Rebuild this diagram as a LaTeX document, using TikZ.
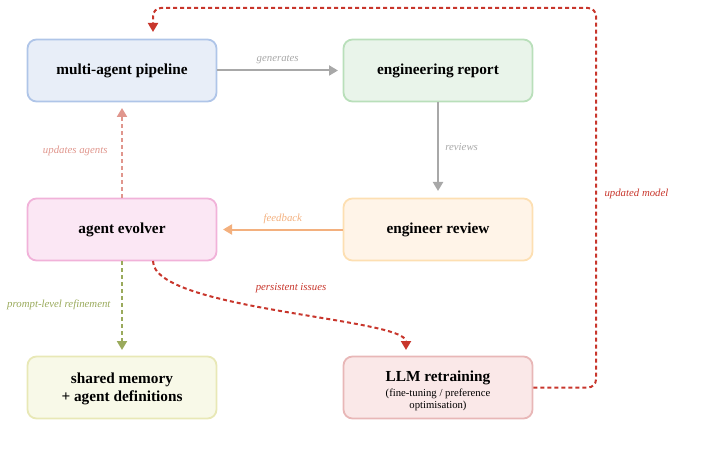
\documentclass[tikz,border=0pt]{standalone}
\usepackage{fontspec}
\setmainfont{Liberation Serif}
\usetikzlibrary{arrows.meta}
\definecolor{bluefill}{HTML}{E8EEF8}\definecolor{blueline}{HTML}{AFC5E8}
\definecolor{greenfill}{HTML}{E9F4EA}\definecolor{greenline}{HTML}{B9DFBA}
\definecolor{pinkfill}{HTML}{FBE7F4}\definecolor{pinkline}{HTML}{F1B2D9}
\definecolor{orangefill}{HTML}{FFF4E8}\definecolor{orangeline}{HTML}{FDDFB2}
\definecolor{yellowfill}{HTML}{F8F9E8}\definecolor{yellowline}{HTML}{E8E8B6}
\definecolor{redfill}{HTML}{FAE8E8}\definecolor{redline}{HTML}{E8B7B7}
\definecolor{greyarrow}{HTML}{A8A8A8}
\definecolor{orangearrow}{HTML}{F3B07E}
\definecolor{salmon}{HTML}{E0968D}
\definecolor{olive}{HTML}{9AAA5C}
\definecolor{redarrow}{HTML}{C8362C}
\tikzset{
  box/.style={draw, line width=1.8pt, rounded corners=9pt, minimum width=189pt, minimum height=62pt, align=center, font=\fontsize{15.3}{16.5}\selectfont\bfseries, inner sep=0pt},
  lbl/.style={font=\fontsize{10.8}{12}\selectfont\itshape},
  conn/.style={line width=2pt, -{Triangle[length=9pt,width=10pt]}},
  dsh/.style={dash pattern=on 4pt off 3pt},
}
\begin{document}
\begin{tikzpicture}[x=1pt,y=-1pt]
\useasboundingbox (0,0) rectangle (717,473);
\node[box, fill=bluefill, draw=blueline] (map) at (122,70.5) {multi-agent pipeline};
\node[box, fill=greenfill, draw=greenline] (rep) at (438,70.5) {engineering report};
\node[box, fill=pinkfill, draw=pinkline] (evo) at (122,229.5) {agent evolver};
\node[box, fill=orangefill, draw=orangeline] (rev) at (438,229.5) {engineer review};
\node[box, fill=yellowfill, draw=yellowline] (mem) at (122,387.5) {};
\node[font=\fontsize{15.3}{16.5}\selectfont\bfseries, align=center] (memt) at (122,389) {shared memory\\[1.5pt]+ agent definitions};
\node[box, fill=redfill, draw=redline] (llm) at (438,387.5) {};
\node[font=\fontsize{15.3}{16}\selectfont\bfseries] (llmt) at (438,377.5) {LLM retraining};
\node[font=\fontsize{10.7}{12}\selectfont, align=center] (llms) at (438,400) {(fine-tuning / preference\\optimisation)};

\coordinate (evotop) at (122,198);
\coordinate (maptip) at (122,108);
\coordinate (evobot) at (122,261);
\coordinate (memtip) at (122,350);
\coordinate (evocurve) at (153,261);
\coordinate (llmtip) at (406,350);
\coordinate (c1) at (596,387.5);
\coordinate (c2) at (596,8);
\coordinate (c3) at (153,8);
\coordinate (maptop) at (153,32);
\coordinate (reptip) at (338,70.5);
\coordinate (revtip) at (438,191);
\coordinate (evotip) at (223,229.5);

\draw[conn, greyarrow] (map.east) -- (reptip) node[pos=0.5, above=2pt, lbl, text=greyarrow] {generates};
\draw[conn, greyarrow] (rep.south) -- (revtip) node[pos=0.5, right=3pt, lbl, text=greyarrow] {reviews};
\draw[conn, orangearrow] (rev.west) -- (evotip) node[pos=0.5, above=1pt, lbl, text=orangearrow] {feedback};
\draw[conn, dsh, salmon] (evotop) -- (maptip);
\node[lbl, text=salmon, anchor=east] (lua) at (111,151) {updates agents};
\draw[conn, dsh, olive] (evobot) -- (memtip);
\node[lbl, text=olive, anchor=east] (lpr) at (114,305) {prompt-level refinement};
\draw[conn, dsh, redarrow] (evocurve) .. controls (153,310) and (406,318) .. (llmtip);
\node[lbl, text=redarrow] (lpi) at (291,288) {persistent issues};
\draw[conn, dsh, redarrow, rounded corners=8pt] (llm.east) -- (c1) -- (c2) -- (c3) -- (maptop);
\node[lbl, text=redarrow, anchor=west] (lum) at (601,194) {updated model};
\end{tikzpicture}
\end{document}
